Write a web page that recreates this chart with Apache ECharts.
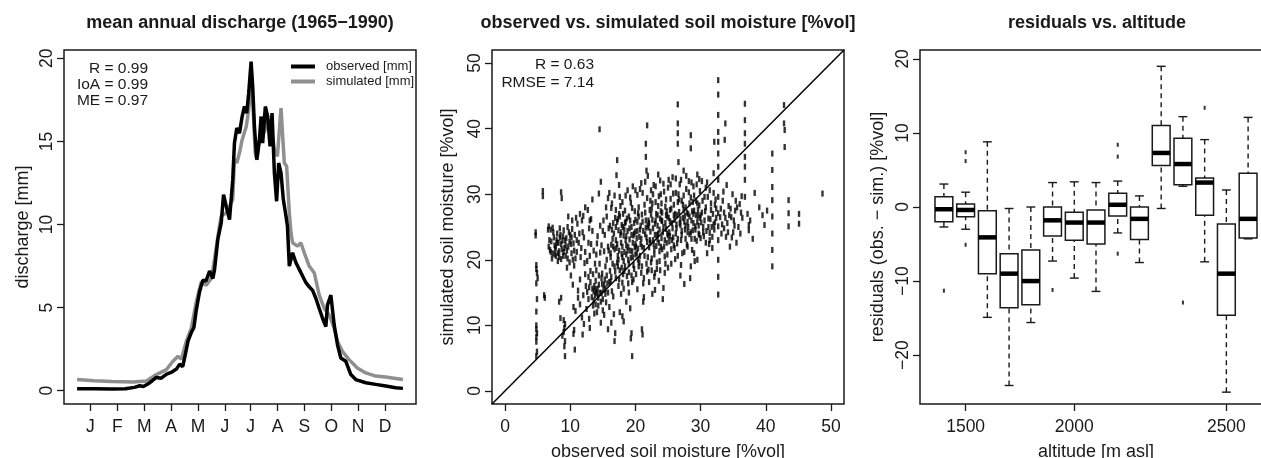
<!DOCTYPE html>
<html><head><meta charset="utf-8">
<script src="https://cdn.jsdelivr.net/npm/echarts@6/dist/echarts.min.js"></script>
<style>html,body{margin:0;padding:0;background:#fff}#c{width:1261px;height:458px}</style>
</head><body><div id="c"></div>
<script>
// ---------- Panel 1: mean annual discharge ----------
const monthLabels = ['J','F','M','A','M','J','J','A','S','O','N','D'];
const monthTickDays = [16,46,76,106,136,166,195,225,255,285,315,345];
const dischargeTicks = [0,5,10,15,20];
const observedQ = [[1,0.12],[20,0.12],[40,0.11],[55,0.12],[65,0.2],[71,0.3],[75,0.25],[80,0.4],[85,0.6],[89.6,0.8],[95,0.75],[101,1.0],[106,1.1],[112,1.3],[115.6,1.6],[119,1.45],[122,2.2],[125,3.0],[128.6,3.5],[131.5,3.8],[134,4.8],[137.8,5.95],[141.5,6.65],[145,6.6],[147.1,6.55],[149,7.2],[152.7,6.75],[154.6,7.3],[158.2,9.1],[162,10.1],[164.6,11.8],[167.6,11.1],[171.3,10.3],[174.9,12.7],[176.8,14.9],[179.4,15.8],[182.4,15.5],[185.4,16.5],[188,17.1],[190.5,16.7],[192.7,17.9],[195.4,19.8],[197.2,18.3],[199.1,15.9],[201.7,13.9],[204.7,15.1],[206.6,16.5],[208.3,14.9],[211.3,17.1],[213.9,16.5],[216.6,14.7],[218.8,16.7],[221.4,13.1],[223.9,11.4],[226.2,13.7],[228.8,13.1],[231.4,11.5],[234.4,10.5],[236,9.9],[238.1,7.5],[241.7,8.3],[245.5,7.7],[249.2,7.3],[252.9,6.9],[256.7,6.5],[260.3,6.25],[264,6.05],[267.8,5.55],[271.5,4.95],[275.2,4.36],[278.9,3.86],[280.7,5.15],[284.5,5.75],[288.2,3.96],[291.9,2.76],[295.6,1.97],[301.2,1.77],[306.8,0.97],[312.3,0.67],[323.5,0.48],[334.6,0.38],[345.8,0.28],[356.9,0.18],[365,0.14]];
const simulatedQ = [[1,0.67],[20,0.6],[40,0.55],[63.6,0.52],[78.5,0.58],[89.6,0.97],[100.8,1.27],[108.1,1.77],[113.7,2.07],[117.5,1.9],[123,2.97],[128.6,3.76],[134.2,5.36],[139.7,6.55],[145.3,6.35],[150.9,6.75],[154.6,7.94],[160.1,9.93],[162,10.5],[167.6,10.7],[171.3,11.1],[174.9,11.5],[176.8,13.9],[179.4,13.7],[182.4,14.3],[185.4,15.1],[190,15.9],[192.7,16.9],[195.4,18.3],[197.2,17.5],[200,14.3],[202,13.9],[206.6,15.9],[210,15.5],[213.9,16.3],[217.5,16.1],[221.4,14.5],[224.8,14.1],[228.8,17.0],[230.5,16.9],[232.5,13.7],[235.1,13.5],[238.1,10.7],[240,9.5],[241.7,8.9],[247.4,8.7],[251,8.9],[254.8,8.3],[260.3,7.5],[265.9,7.1],[271.5,5.75],[277.1,4.95],[282.6,4.56],[288.2,3.76],[291.9,2.97],[297.4,2.37],[304.8,1.87],[314.1,1.37],[323.5,1.07],[334.6,0.88],[345.8,0.82],[356.9,0.74],[365,0.67]];

// ---------- Panel 2: observed vs simulated soil moisture ----------
const moistureTicks = [0,10,20,30,40,50];
const oneToOne = [[-2,-2],[52,52]];
const soilPoints = [
[4.8,19.2],[4.8,18.6],[4.9,18.0],[5.0,17.2],[4.8,16.4],[4.9,14.0],[4.8,12.1],[4.8,10.0],[4.8,9.4],[4.9,8.8],[4.8,8.2],[4.8,7.5],[4.9,6.0],[4.8,5.3],[4.7,24.2],[4.7,23.7],
[6.0,14.6],[6.1,14.2],[5.8,30.5],[5.8,29.7],[6.7,25.1],[6.6,24.6],[8.6,30.3],[8.7,29.4],
[9.0,10.8],[9.2,10.2],[9.1,9.6],[9.0,9.0],[8.8,8.4],[9.2,7.6],[9.1,6.8],[9.2,5.3],[8.5,11.1],[8.3,13.6],[8.6,14.2],
[10.6,9.3],[10.5,8.7],[10.7,6.3],[10.8,12.2],[10.5,12.8],
[6.7,22.0],[6.9,21.5],[7.1,22.8],[7.3,21.0],[7.5,23.4],[7.6,22.2],[7.8,20.6],[8.0,24.0],[8.2,22.6],[8.3,21.3],[8.5,23.8],[8.6,20.1],[8.8,22.9],[9.0,24.5],[9.1,21.8],[9.3,20.6],[9.4,23.3],[9.6,25.0],[9.7,22.0],[9.9,19.6],[10.0,23.8],[10.2,21.0],[10.3,24.7],[10.5,22.5],[10.6,19.1],[10.8,20.2],[11.0,23.0],[11.1,25.5],[7.0,24.6],[8.1,19.8],[9.5,18.8],[10.1,17.6],[10.4,16.2],[11.2,15.3],[11.5,17.0],[11.7,21.8],[11.9,24.2],[12.0,26.7],[12.2,19.5],[12.4,16.0],[12.6,15.1],[12.8,22.6],[12.9,24.8],[13.0,26.0],[13.1,18.3],[13.3,14.3],[13.4,29.2],[13.2,26.2],[12.5,12.5],[11.8,11.2],
[13.6,15.2],[13.8,14.6],[13.9,16.8],[14.0,20.8],[14.1,22.5],[14.2,15.6],[14.3,13.0],[14.4,30.1],[14.5,39.9],[14.7,31.9],[14.6,25.2],[14.8,14.9],[14.9,17.9],[15.0,12.3],[15.1,15.4],[15.2,21.3],[15.3,23.8],[15.4,19.0],[15.5,13.5],[15.6,26.6],[15.7,16.4],[15.8,22.0],[15.9,24.8],[16.0,12.8],[16.1,18.3],[16.2,20.4],[16.3,27.9],[16.4,15.2],[16.5,23.2],[16.6,25.6],[16.7,11.7],[16.8,7.6],[16.9,8.8],[16.8,21.6],
[17.0,17.2],[17.0,23.0],[17.1,32.9],[17.2,35.2],[17.2,19.6],[17.3,26.2],[17.4,24.5],[17.5,31.4],[17.5,21.4],[17.6,18.4],[17.7,28.2],[17.8,22.6],[17.9,25.3],[18.0,16.5],[18.0,20.4],[18.1,27.0],[18.2,23.7],[18.3,21.2],[18.4,19.0],[18.5,29.8],[18.5,25.8],[18.6,22.2],[18.7,17.5],[18.8,24.4],[18.9,20.0],[19.0,26.6],[19.0,18.1],[19.1,23.1],[19.2,21.4],[19.3,28.7],[19.4,25.0],[19.5,5.3],[19.5,16.6],[19.6,22.6],[19.7,19.2],[19.8,24.0],[19.9,27.4],[20.0,20.8],[20.0,30.6],[19.4,8.8],[19.3,8.0],[18.2,10.6],[18.0,11.4],[17.6,12.0],[19.2,12.6],[20.3,15.5],[20.1,17.8],
[20.2,23.3],[20.3,25.8],[20.4,21.7],[20.5,28.0],[20.6,19.6],[20.7,24.6],[20.8,22.4],[20.9,31.7],[21.0,26.9],[21.0,9.4],[21.1,8.6],[21.2,13.6],[21.3,14.3],[21.4,20.6],[21.5,23.9],[21.6,37.7],[21.6,35.7],[21.7,33.6],[21.8,40.5],[21.8,29.4],[21.9,25.2],[22.0,18.5],[22.1,21.9],[22.2,27.6],[22.3,24.3],[22.4,30.6],[22.5,20.2],[22.6,26.1],[22.7,23.0],[22.8,31.4],[22.9,17.4],[23.0,25.5],[23.1,28.8],[23.2,22.1],[23.3,19.6],[23.4,26.8],[23.5,24.0],[23.6,29.7],[23.7,21.3],[23.8,32.1],[23.9,27.4],[24.0,23.3],[24.1,25.9],[24.2,14.0],[24.3,15.7],[24.4,30.4],[24.5,20.5],[24.6,28.1],[24.7,24.7],[24.8,22.6],[24.9,26.6],[25.0,31.0],[23.6,16.8],[22.6,14.8],[25.0,18.8],
[25.2,24.2],[25.3,27.6],[25.4,29.3],[25.5,21.6],[25.6,25.6],[25.7,32.6],[25.8,23.4],[25.9,28.4],[26.0,26.1],[26.1,20.1],[26.2,30.2],[26.3,24.8],[26.4,22.5],[26.5,43.7],[26.5,40.8],[26.5,39.3],[26.5,37.7],[26.6,34.9],[26.7,27.3],[26.8,31.5],[26.9,25.3],[27.0,23.0],[27.1,29.0],[27.2,21.0],[27.3,26.4],[27.4,33.6],[27.5,16.3],[27.6,24.6],[27.7,28.0],[27.8,30.8],[27.9,22.3],[28.0,25.8],[28.1,27.0],[28.2,32.0],[28.3,23.9],[28.5,39.0],[28.5,37.0],[28.5,29.5],[28.6,26.0],[28.7,21.5],[28.8,24.5],[28.9,31.2],[29.0,27.5],[29.1,19.8],[29.2,25.1],[29.3,29.0],[29.4,22.9],[29.5,33.0],[29.6,26.7],[29.7,24.0],[29.8,28.3],[29.9,30.5],[30.0,23.3],
[30.2,27.2],[30.4,25.0],[30.6,29.6],[30.8,22.6],[31.0,31.8],[31.2,26.3],[31.4,24.1],[31.6,28.6],[31.8,23.5],[32.0,30.2],[32.1,38.0],[32.2,25.7],[32.4,27.8],[32.7,47.4],[32.7,45.2],[32.7,42.1],[32.7,39.5],[32.7,38.0],[32.7,36.2],[32.7,34.2],[32.7,32.2],[32.7,29.6],[32.7,27.1],[32.7,25.1],[32.7,23.0],[32.7,20.0],[32.7,17.4],[32.7,14.7],[33.0,26.5],[33.2,24.0],[33.4,29.0],[33.7,38.3],[33.8,40.8],[33.6,27.2],[33.9,23.5],[34.1,25.6],[34.3,28.2],[34.5,22.0],[34.7,26.5],[34.9,30.0],[35.0,24.2],[35.3,27.5],[35.5,22.6],[35.8,25.0],[36.0,28.5],[36.3,29.7],
[36.8,43.8],[36.8,41.3],[36.8,39.3],[36.8,37.7],[36.8,35.7],[36.8,34.2],[36.8,32.2],[36.8,29.6],[37.4,25.3],[37.4,24.5],[37.2,27.0],[37.6,26.0],
[41.0,36.2],[41.0,33.7],[41.0,31.1],[41.0,29.1],[41.0,26.6],[41.0,24.0],[41.0,21.5],[41.0,19.0],
[39.0,28.0],[39.5,26.8],[40.2,27.5],[42.8,43.6],[42.8,40.8],[42.9,39.8],[42.9,37.2],[43.5,29.1],[43.5,27.1],[43.5,25.1],[45.1,27.0],[45.1,25.5],[48.7,30.1],[38.3,30.2],[38.0,23.2],[39.8,25.3],
[14.2,23.6],[14.6,21.1],[15.0,24.4],[15.3,17.0],[15.6,20.0],[15.9,21.4],[16.1,25.2],[16.3,22.3],[16.5,19.4],[16.7,24.0],[16.9,26.4],[16.2,16.7],[16.6,14.4],[15.4,14.8],[14.9,16.3],[14.3,14.2],[13.7,16.0],[13.5,13.0],[13.9,15.5],[14.7,13.6],
[17.1,21.8],[17.3,19.0],[17.5,27.0],[17.7,23.8],[17.9,20.9],[18.1,25.0],[18.3,18.3],[18.5,23.0],[18.7,26.3],[18.9,22.0],[19.1,24.8],[19.3,20.3],[19.5,27.9],[19.7,23.7],[19.9,21.9],[17.2,25.8],[17.6,29.6],[18.0,28.8],[18.4,27.5],[18.8,30.6],[19.2,29.5],[19.6,31.2],[20.0,26.1],[17.4,16.0],[17.8,14.8],[18.2,15.6],[18.6,13.6],[19.0,15.0],[19.4,17.6],[19.8,18.6],[17.3,20.6],[17.9,18.8],[18.6,20.8],[19.5,21.3],[18.3,24.6],[17.0,27.6],
[20.2,21.0],[20.4,27.1],[20.6,23.5],[20.8,25.2],[21.0,22.0],[21.2,24.4],[21.4,28.4],[21.6,26.0],[21.8,22.7],[22.0,24.9],[22.2,23.0],[22.4,26.9],[22.6,28.6],[22.8,22.4],[23.0,23.8],[23.2,27.0],[23.4,25.2],[23.6,22.6],[23.8,26.3],[24.0,28.6],[24.2,24.2],[24.4,22.0],[24.6,25.6],[24.8,27.4],[25.0,23.7],[20.3,29.9],[20.7,30.8],[21.1,30.2],[21.5,31.9],[21.9,32.8],[22.3,29.0],[22.7,30.0],[23.1,31.2],[23.5,33.0],[23.9,30.0],[24.3,31.6],[24.7,29.2],[25.1,32.2],[20.5,19.0],[20.9,18.0],[21.3,17.2],[21.7,19.4],[22.1,16.6],[22.5,18.4],[22.9,20.8],[23.3,18.6],[23.7,19.8],[24.1,21.6],[24.5,18.0],[24.9,20.8],[21.2,16.4],[23.0,15.4],[20.0,24.3],[22.0,26.0],[24.0,26.0],[21.6,24.9],[23.4,23.1],
[25.3,25.9],[25.6,23.0],[25.9,26.8],[26.2,24.0],[26.5,28.8],[26.8,25.6],[27.1,23.8],[27.4,27.6],[27.7,25.2],[28.0,24.2],[28.3,26.6],[28.6,23.2],[28.9,27.0],[29.2,24.6],[29.5,25.8],[29.8,23.8],[25.4,31.5],[25.8,30.1],[26.2,32.4],[26.6,30.0],[27.0,32.2],[27.4,29.8],[27.8,32.8],[28.2,30.3],[28.6,31.8],[29.0,29.8],[29.4,31.5],[29.8,32.3],[25.5,19.4],[26.0,21.8],[26.5,20.6],[27.0,19.2],[27.5,21.2],[28.0,22.0],[28.5,19.0],[29.0,21.0],[29.5,20.0],[26.9,17.6],[28.4,17.2],[25.2,22.8],[26.4,26.8],[27.6,26.7],[28.8,28.8],[29.6,27.6],
[30.1,25.7],[30.3,29.0],[30.5,23.6],[30.7,27.4],[30.9,24.4],[31.1,29.6],[31.3,22.4],[31.5,26.2],[31.7,25.0],[31.9,27.0],[32.1,24.6],[32.3,29.2],[30.2,32.0],[30.8,31.0],[31.4,30.6],[32.0,33.2],[31.0,21.0],[31.8,21.8],[33.3,25.4],[33.8,26.4],[34.2,24.2],[34.6,27.8],[35.1,26.0],[35.6,28.0],[36.1,24.0],[33.5,30.4],[34.0,31.4],[34.8,23.4],[35.4,29.0],[36.4,26.4],
[7.2,20.2],[7.4,24.2],[7.7,21.6],[7.9,23.0],[8.1,21.0],[8.4,24.8],[8.7,21.6],[8.9,20.6],[9.2,23.0],[9.5,21.4],[9.8,24.2],[10.1,22.4],[10.4,20.0],[10.7,23.8],[11.0,21.2],[11.3,22.6],[11.6,20.4],[11.4,24.0],[11.8,26.0],[12.1,23.4],[12.3,21.2],[12.6,19.8],[12.8,17.4],[13.0,20.6],[13.2,22.4],[13.4,24.4],[13.6,21.4],[13.8,19.4],[12.7,27.6],[12.3,28.0],[11.5,27.0],[10.9,26.4],[10.3,26.0],[9.7,26.6],[6.8,23.0],[7.3,24.9],
[11.2,14.2],[11.5,13.2],[12.0,14.6],[12.3,17.8],[12.9,15.8],[13.1,16.6],[13.5,17.8],[14.0,18.4],[14.5,19.4],[14.8,22.2],[15.1,26.0],[15.5,28.0],[15.8,29.4],[16.0,30.2],[16.4,28.6],[16.8,29.8],[15.2,11.6],[14.1,12.0],[13.7,11.8],[12.9,11.0],[12.1,10.2],[11.9,8.6],[13.0,9.6],[14.7,10.4],[15.8,9.4],[16.3,10.4],
[16.2,21.0],[16.4,24.6],[16.6,22.0],[16.8,19.0],[17.0,25.0],[17.2,22.4],[17.4,20.0],[17.6,26.6],[17.8,24.2],[18.0,22.0],[18.2,19.8],[18.4,25.6],[18.6,23.6],[18.8,21.4],[19.0,19.4],[19.2,26.0],[19.4,23.8],[19.6,20.4],[19.8,25.6],[20.0,22.4],[16.3,17.4],[16.9,18.2],[17.5,17.0],[18.1,17.8],[18.9,16.4],[19.7,17.0],
[20.1,22.0],[20.3,24.4],[20.5,26.6],[20.7,20.6],[20.9,23.2],[21.1,25.8],[21.3,21.8],[21.5,27.2],[21.7,23.4],[21.9,20.4],[22.1,25.6],[22.3,22.6],[22.5,27.8],[22.7,24.8],[22.9,21.6],[23.1,26.0],[23.3,23.8],[23.5,28.2],[23.7,24.6],[23.9,22.0],[24.1,27.2],[24.3,25.0],[24.5,23.0],[24.7,26.8],[24.9,24.0],[20.4,20.0],[21.0,19.0],[21.8,18.2],[22.4,19.6],[23.0,18.0],[23.8,18.4],[24.6,19.4],
[25.1,26.4],[25.3,23.6],[25.5,27.8],[25.7,24.8],[25.9,22.2],[26.1,27.0],[26.3,25.4],[26.5,23.2],[26.7,29.2],[26.9,26.2],[27.1,24.4],[27.3,28.4],[27.5,25.8],[27.7,23.2],[27.9,27.2],[28.1,25.0],[28.3,28.6],[28.5,24.2],[28.7,27.4],[28.9,25.6],[29.1,23.2],[29.3,26.8],[29.5,28.6],[29.7,25.2],[29.9,26.4],
[13.6,13.8],[13.9,13.2],[14.2,14.8],[14.4,16.2],[14.6,15.0],[14.8,17.2],[15.0,14.0],[15.2,16.2],[15.4,15.6],[15.6,17.6],[15.8,15.0],[16.0,16.6],[14.0,15.0],[13.4,15.6],[12.8,14.0],[14.4,17.6],
[7.0,21.2],[7.6,20.8],[8.0,22.6],[8.3,20.4],[8.6,22.4],[8.9,23.6],[9.3,22.2],[9.6,20.2],[9.9,22.8],[10.2,23.4],[10.6,21.4],[7.8,22.0],[8.4,23.4],[9.0,21.2],
[30.0,26.8],[30.4,24.2],[30.8,28.0],[31.2,25.0],[31.6,27.6],[32.0,25.4],[32.4,26.4],[30.6,26.0],[31.4,23.0],[32.2,28.4],[33.1,27.8],[33.6,24.8],[34.4,26.8],[35.2,25.2],[36.2,27.2]
];

// ---------- Panel 3: residuals vs altitude ----------
const altitudeTickPos = [2,7,14];
const altitudeTickLabels = ['1500','2000','2500'];
const residualTicks = [-20,-10,0,10,20];
// [position, lower whisker, Q1, median, Q3, upper whisker]
const residualBoxes = [
[1,-2.7,-2.0,-0.3,1.4,3.1],
[2,-3.0,-1.3,-0.4,0.4,2.0],
[3,-14.9,-9.0,-4.1,-0.5,8.8],
[4,-24.1,-13.6,-9.0,-6.3,-0.2],
[5,-15.6,-13.2,-10.0,-5.8,0.0],
[6,-7.3,-3.9,-1.8,0.0,3.3],
[7,-9.6,-4.5,-2.1,-0.7,3.4],
[8,-11.4,-5.0,-2.1,-0.4,3.3],
[9,-3.5,-1.2,0.3,1.85,3.5],
[10,-7.5,-4.4,-1.6,0.0,1.5],
[11,-0.2,5.6,7.3,11.0,19.0],
[12,2.8,3.0,5.8,9.3,12.2],
[13,-7.4,-1.1,3.3,3.9,9.1],
[14,-25.0,-14.6,-9.0,-2.3,2.3],
[15,-4.3,-4.2,-1.6,4.55,12.1]
];
const residualOutliers = [[1,-11.3],[2,7.4],[2,6.2],[2,-5.1],[6,-11.2],[9,8.4],[9,6.8],[9,-6.3],[12,-12.9],[13,13.4]];

// ---------- chart ----------
const FONT = '"Liberation Sans", Arial, Helvetica, sans-serif';
const INK = '#1a1a1a';
const dashSymbol = 'path://M0,0 L2,0 L2,5 L0,5 Z';
const minusFmt = v => (v < 0 ? '\u2212' + (-v) : String(v));

function axisCommon(ticks, fmt, extra) {
  return Object.assign({
    type: 'value',
    axisLine: { show: false, onZero: false },
    splitLine: { show: false },
    axisTick: { show: true, inside: false, customValues: ticks, length: 7, lineStyle: { color: INK, width: 1.3 } },
    axisLabel: { inside: false, customValues: ticks, formatter: fmt, fontSize: 17.5, color: INK, fontFamily: FONT, margin: 14 },
    nameLocation: 'middle',
    nameTextStyle: { fontSize: 18, color: INK, fontFamily: FONT }
  }, extra);
}

const grids = [
  { left: 64, top: 50, width: 352, height: 354 },
  { left: 492, top: 50, width: 352, height: 354 },
  { left: 920, top: 50, width: 352, height: 354 }
].map(g => Object.assign(g, { show: true, borderColor: INK, borderWidth: 1.5, backgroundColor: 'transparent', containLabel: false, outerBoundsMode: 'none' }));

function boxRender(params, api) {
  const x = api.value(0);
  const pLo = api.coord([x, api.value(1)]);
  const pQ1 = api.coord([x, api.value(2)]);
  const pMed = api.coord([x, api.value(3)]);
  const pQ3 = api.coord([x, api.value(4)]);
  const pHi = api.coord([x, api.value(5)]);
  const halfW = api.size([0.82, 0])[0] / 2;
  const capW = halfW * 0.5;
  const cx = pMed[0];
  const whisk = { stroke: INK, lineWidth: 1.4, lineDash: [5, 4] };
  const solid = { stroke: INK, lineWidth: 1.4 };
  return {
    type: 'group',
    children: [
      { type: 'line', shape: { x1: cx, y1: pLo[1], x2: cx, y2: pQ1[1] }, style: whisk },
      { type: 'line', shape: { x1: cx, y1: pHi[1], x2: cx, y2: pQ3[1] }, style: whisk },
      { type: 'line', shape: { x1: cx - capW, y1: pLo[1], x2: cx + capW, y2: pLo[1] }, style: solid },
      { type: 'line', shape: { x1: cx - capW, y1: pHi[1], x2: cx + capW, y2: pHi[1] }, style: solid },
      { type: 'rect', shape: { x: cx - halfW, y: pQ3[1], width: 2 * halfW, height: pQ1[1] - pQ3[1] }, style: { fill: '#fff', stroke: INK, lineWidth: 1.5 } },
      { type: 'line', shape: { x1: cx - halfW, y1: pMed[1], x2: cx + halfW, y2: pMed[1] }, style: { stroke: '#000', lineWidth: 4.5 } }
    ]
  };
}

function txt(x, y, text, size, align, weight) {
  return { type: 'text', x: x, y: y, silent: true,
    style: { text: text, font: (weight || 'normal') + ' ' + size + 'px ' + FONT, fill: INK,
      textAlign: align, textVerticalAlign: 'middle', align: align, verticalAlign: 'middle' } };
}

const option = {
  animation: false,
  backgroundColor: '#fff',
  textStyle: { fontFamily: FONT },
  grid: grids,
  xAxis: [
    axisCommon(monthTickDays, v => monthLabels[monthTickDays.indexOf(v)], { gridIndex: 0, min: -13.6, max: 379.6 }),
    axisCommon(moistureTicks, minusFmt, { gridIndex: 1, min: -2, max: 52, name: 'observed soil moisture [%vol]', nameGap: 39 }),
    axisCommon(altitudeTickPos, v => altitudeTickLabels[altitudeTickPos.indexOf(v)], { gridIndex: 2, min: -0.1, max: 16.1, name: 'altitude [m asl]', nameGap: 39 })
  ],
  yAxis: [
    axisCommon(dischargeTicks, minusFmt, { gridIndex: 0, min: -0.8, max: 20.5, name: 'discharge [mm]', nameGap: 32 }),
    axisCommon(moistureTicks, minusFmt, { gridIndex: 1, min: -2, max: 52, name: 'simulated soil moisture [%vol]', nameGap: 35 }),
    axisCommon(residualTicks, minusFmt, { gridIndex: 2, min: -26.6, max: 21.2, name: 'residuals (obs. \u2212 sim.) [%vol]', nameGap: 33 })
  ].map(a => { a.axisLabel.rotate = 90; a.axisLabel.margin = 8; return a; }),
  legend: {
    data: ['observed [mm]', 'simulated [mm]'],
    orient: 'vertical', left: 286, top: 55, icon: 'rect', itemWidth: 24, itemHeight: 4, itemGap: 2,
    textStyle: { fontSize: 13, color: INK, fontFamily: FONT, padding: [0, 0, 0, 6] }
  },
  graphic: [
    txt(240, 23, 'mean annual discharge (1965\u22121990)', 18, 'center', 'bold'),
    txt(668, 23, 'observed vs. simulated soil moisture [%vol]', 18, 'center', 'bold'),
    txt(1097, 23, 'residuals vs. altitude', 18, 'center', 'bold'),
    txt(148, 69, 'R = 0.99', 15.5, 'right'),
    txt(148, 85, 'IoA = 0.99', 15.5, 'right'),
    txt(148, 101, 'ME = 0.97', 15.5, 'right'),
    txt(594, 65, 'R = 0.63', 15.5, 'right'),
    txt(594, 83, 'RMSE = 7.14', 15.5, 'right')
  ],
  series: [
    { name: 'observed [mm]', type: 'line', xAxisIndex: 0, yAxisIndex: 0, data: observedQ, showSymbol: false, lineStyle: { color: '#000', width: 3.5 }, itemStyle: { color: '#000' }, z: 3 },
    { name: 'simulated [mm]', type: 'line', xAxisIndex: 0, yAxisIndex: 0, data: simulatedQ, showSymbol: false, lineStyle: { color: '#8f8f8f', width: 3.5 }, itemStyle: { color: '#8f8f8f' }, z: 2 },
    { type: 'scatter', xAxisIndex: 1, yAxisIndex: 1, data: soilPoints, symbol: dashSymbol, symbolSize: [2.4, 6], itemStyle: { color: '#000' }, large: false },
    { type: 'line', xAxisIndex: 1, yAxisIndex: 1, data: oneToOne, showSymbol: false, lineStyle: { color: '#000', width: 1.5 }, silent: true },
    { type: 'custom', xAxisIndex: 2, yAxisIndex: 2, data: residualBoxes, renderItem: boxRender, encode: { x: 0, y: [1, 2, 3, 4, 5] } },
    { type: 'scatter', xAxisIndex: 2, yAxisIndex: 2, data: residualOutliers, symbol: dashSymbol, symbolSize: [2, 4], itemStyle: { color: '#000' } }
  ]
};
const chart = echarts.init(document.getElementById('c'), null, { renderer: 'canvas' });
chart.setOption(option);
</script></body></html>
